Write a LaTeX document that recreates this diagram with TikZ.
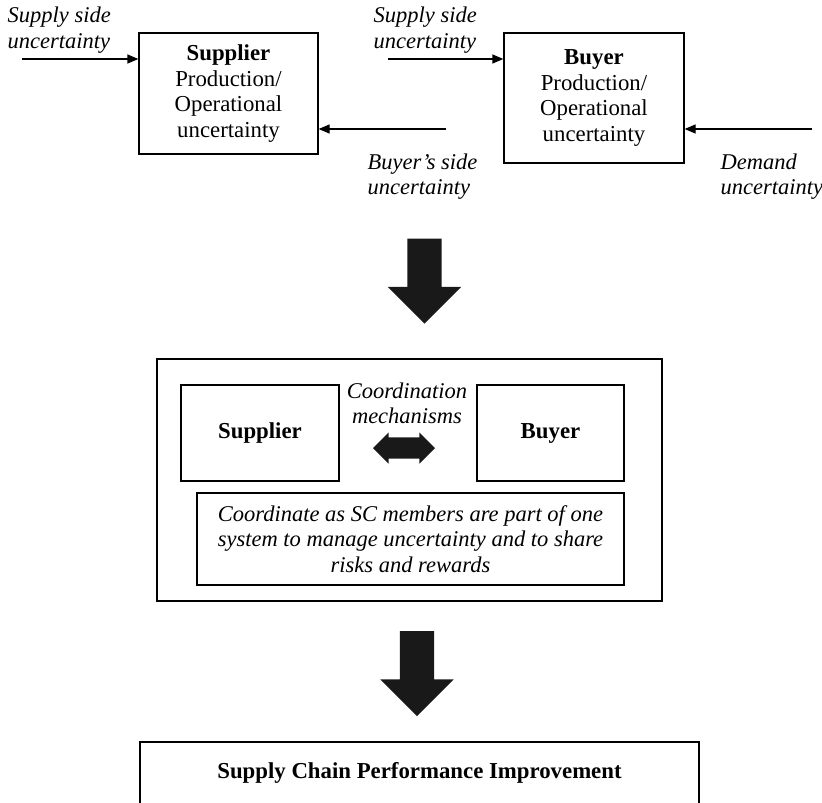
\documentclass[tikz,border=0pt]{standalone}
\usepackage{fontspec}
\setmainfont{Liberation Serif}
\usepackage{tikz}
\usetikzlibrary{shapes,arrows.meta,backgrounds}
\usetikzlibrary{positioning, shapes.geometric}
\newcommand{\dsize}{\fontsize{22.8}{25.5}\selectfont}
\tikzset{
  ubox/.style={ draw, line width=1.3pt, inner sep=0pt, align=center }
}
\tikzset{
  lbl/.style={ inner sep=0pt, align=left, font=\fontsize{22.5}{25.5}\selectfont\itshape }
}
\tikzset{
  bigarr/.style={ single arrow, fill=black!90, inner xsep=0pt, inner ysep=16.5pt, rotate=-90,
    minimum height=85pt, minimum width=72pt, single arrow head extend=19.5pt }
}
\tikzset{
  dblarr/.style={ double arrow, fill=black!90, inner xsep=0pt, inner ysep=10pt,
    minimum height=62pt, minimum width=30pt, double arrow head extend=5pt }
}

\begin{document}
\begin{tikzpicture}[x=1pt, y=-1pt, font=\dsize,
    >={Triangle[length=11pt, width=9pt]}, line width=1.3pt]
        \useasboundingbox (0,0) rectangle (822,803);
        % top row
        \node[ubox, minimum width=179pt, minimum height=121pt] (sup) at (228.5, 93.5)
          {\textbf{Supplier}\\Production/\\Operational\\uncertainty};
        \node[ubox, minimum width=180pt, minimum height=130pt] (buy) at (594, 98)
          {\textbf{Buyer}\\Production/\\Operational\\uncertainty};
        \node[lbl, anchor=west] (lss1) at (7, 30) {Supply side\\uncertainty};
        \node[lbl, anchor=west] (lss2) at (373, 30) {Supply side\\uncertainty};
        \node[lbl, anchor=west] (lbs) at (367, 176.5) {Buyer's side\\uncertainty};
        \node[lbl, anchor=west] (ldm) at (720, 176.5) {Demand\\uncertainty};
        \coordinate (s1) at (22, 59);
        \coordinate (s2) at (446, 129);
        \coordinate (s3) at (388, 59);
        \coordinate (s4) at (812, 129);
        \draw[->] (s1) -- (s1 -| sup.west);
        \draw[->] (s2) -- (s2 -| sup.east);
        \draw[->] (s3) -- (s3 -| buy.west);
        \draw[->] (s4) -- (s4 -| buy.east);

        \node[bigarr] (down1) at (424.5, 272.5) {};

        % coordination
        \node[ubox, minimum width=505pt, minimum height=242pt] (coord) at (409.5, 480) {};
        \node[ubox, minimum width=158pt, minimum height=96pt] (msup) at (260, 433) {\textbf{Supplier}};
        \node[ubox, minimum width=147pt, minimum height=96pt] (mbuy) at (550.5, 433) {\textbf{Buyer}};
        \node[lbl, align=center] (lcm) at (407, 403.5) {Coordination\\mechanisms};
        \node[dblarr] (link) at (404, 448) {};
        \node[ubox, font=\fontsize{22.5}{25.5}\selectfont\itshape, minimum width=427pt, minimum height=92pt] (share) at (410.5, 539)
          {Coordinate as SC members are part of one\\system to manage uncertainty and to share\\risks and rewards};

        \node[bigarr] (down2) at (417, 665) {};

        \node[ubox, minimum width=559pt, minimum height=62pt] (perf) at (419.5, 773)
          {\textbf{Supply Chain Performance Improvement}};
      \end{tikzpicture}
\end{document}
